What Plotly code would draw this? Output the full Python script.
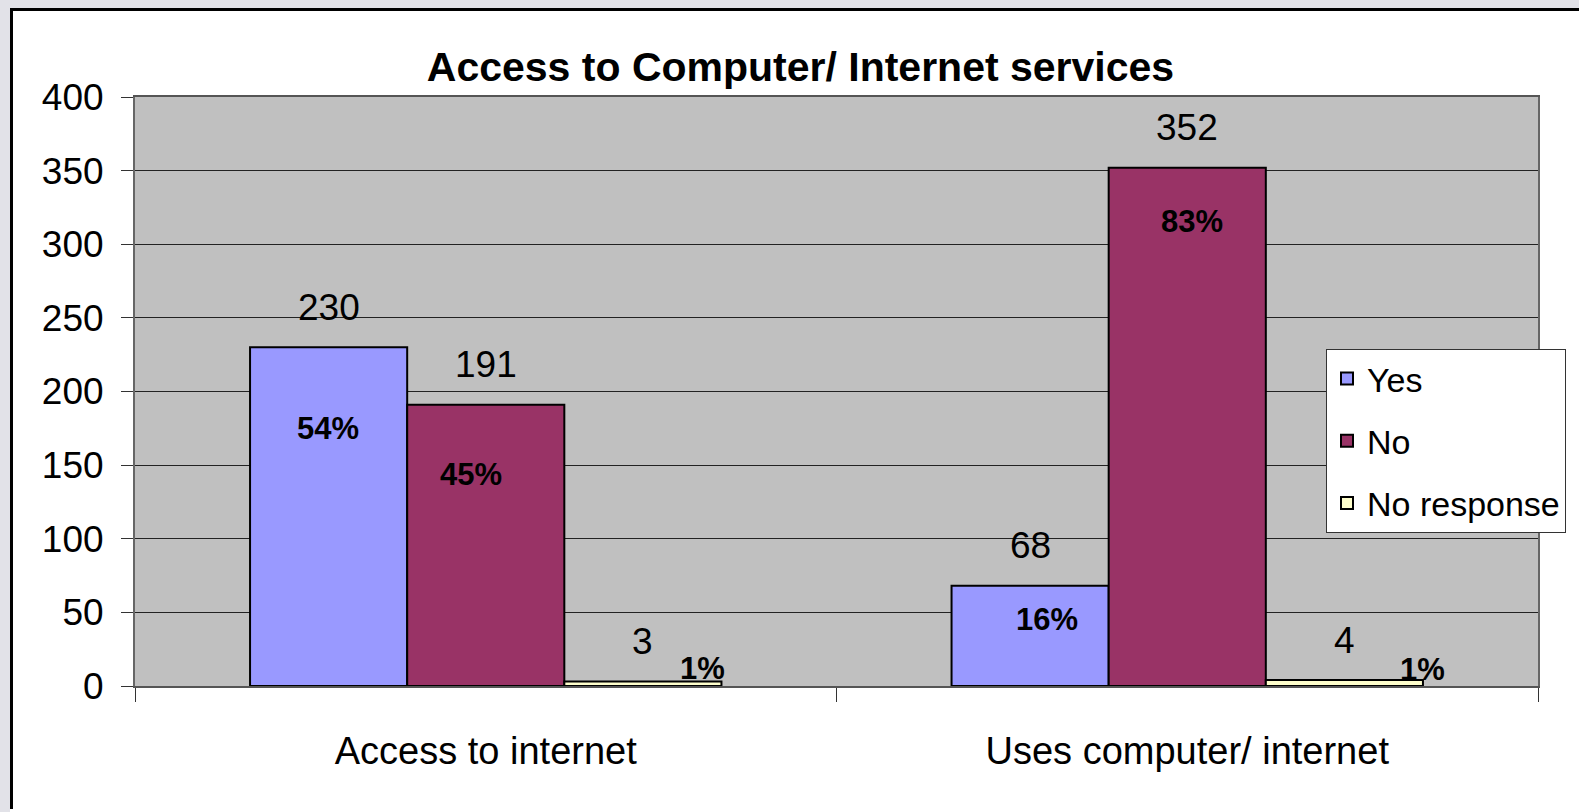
import plotly.graph_objects as go

categories = ["Access to internet", "Uses computer/ internet"]
series_names = ["Yes", "No", "No response"]
yes_vals = [230, 68]
no_vals = [191, 352]
noresp_vals = [3, 4]
y_ticks = [0, 50, 100, 150, 200, 250, 300, 350, 400]
title_text = "Access to Computer/ Internet services"

series_vals = [yes_vals, no_vals, noresp_vals]
colors = ["#9999FF", "#993366", "#FFFFCC"]

# pixel nudges for the percentage labels (style only)
pct_dx = [[-1, 17], [-15, 5], [60, 78]]
pct_dy = [[-81, -34], [-70, -54], [13, 11]]

BARGAP = 0.328
SANS = "Liberation Sans, Arial, sans-serif"

# plot area in pixels
L, R, T, B = 135, 44, 97, 126
W, H = 1582, 812
pw, ph = W - L - R, H - T - B

fig = go.Figure()
for j, (name, vals) in enumerate(zip(series_names, series_vals)):
    fig.add_trace(go.Bar(
        x=categories, y=vals, name=name, legendgroup=name,
        marker=dict(color=colors[j], line=dict(color="black", width=2)),
        hoverinfo="x+y+name",
    ))

totals = [sum(s[i] for s in series_vals) for i in range(len(categories))]
bw = (1 - BARGAP) / len(series_vals)
ann = []
for j, vals in enumerate(series_vals):
    for i, v in enumerate(vals):
        xc = i + (j - (len(series_vals) - 1) / 2) * bw
        ann.append(dict(x=xc, y=v, xref="x", yref="y", text=str(v), showarrow=False,
                        yanchor="middle", xanchor="center", yshift=40,
                        font=dict(family=SANS, size=37, color="black")))
        pct = round(100 * v / totals[i])
        ann.append(dict(x=xc, y=v, xref="x", yref="y", text=f"<b>{pct}%</b>", showarrow=False,
                        yanchor="middle", xanchor="center",
                        xshift=pct_dx[j][i], yshift=pct_dy[j][i],
                        font=dict(family=SANS, size=31, color="black")))

def px_x(p):
    return (p - L) / pw

def px_y(p):
    return (H - B - p) / ph

shapes = [
    dict(type="rect", xref="paper", yref="paper", x0=px_x(0), x1=px_x(10), y0=px_y(H), y1=px_y(0),
         fillcolor="#e2e2e8", line=dict(width=0), layer="below"),
    dict(type="rect", xref="paper", yref="paper", x0=px_x(0), x1=px_x(W - 3), y0=px_y(8), y1=px_y(0),
         fillcolor="#e2e2e8", line=dict(width=0), layer="below"),
    dict(type="line", xref="paper", yref="paper", x0=px_x(11.5), x1=px_x(11.5), y0=px_y(H - 3), y1=px_y(8),
         line=dict(color="black", width=3)),
    dict(type="line", xref="paper", yref="paper", x0=px_x(10), x1=px_x(W - 3), y0=px_y(9.5), y1=px_y(9.5),
         line=dict(color="black", width=3)),
]

fig.update_layout(
    width=W, height=H,
    margin=dict(l=L, r=R, t=T, b=B),
    paper_bgcolor="white",
    plot_bgcolor="#C0C0C0",
    barmode="group", bargap=BARGAP, bargroupgap=0,
    title=dict(text=f"<b>{title_text}</b>", x=0.506, xref="container", xanchor="center",
               y=1 - 67 / H, yref="container", yanchor="middle",
               font=dict(family=SANS, size=41, color="black")),
    legend=dict(x=px_x(1326), y=px_y(349), xanchor="left", yanchor="top",
                bgcolor="white", bordercolor="#333333", borderwidth=1,
                font=dict(family=SANS, size=34, color="black"),
                tracegroupgap=15, traceorder="grouped", itemwidth=30),
    annotations=ann,
    shapes=shapes,
    showlegend=True,
)
fig.update_yaxes(range=[0, 400], tickvals=y_ticks, ticktext=[str(t) for t in y_ticks],
                 showgrid=True, gridcolor="#222222", gridwidth=1,
                 ticks="outside", ticklen=12, tickcolor="#333333", tickwidth=1,
                 showline=True, linecolor="#666666", linewidth=2, mirror=True,
                 tickfont=dict(family=SANS, size=37, color="black"),
                 ticklabelstandoff=10, zeroline=False, fixedrange=True)
fig.update_xaxes(ticks="outside", tickson="boundaries", ticklen=14, tickcolor="#333333",
                 showline=True, linecolor="#555555", linewidth=2, mirror=True,
                 tickfont=dict(family=SANS, size=38, color="black"),
                 ticklabelstandoff=30, fixedrange=True)

fig.write_html("out.html")
